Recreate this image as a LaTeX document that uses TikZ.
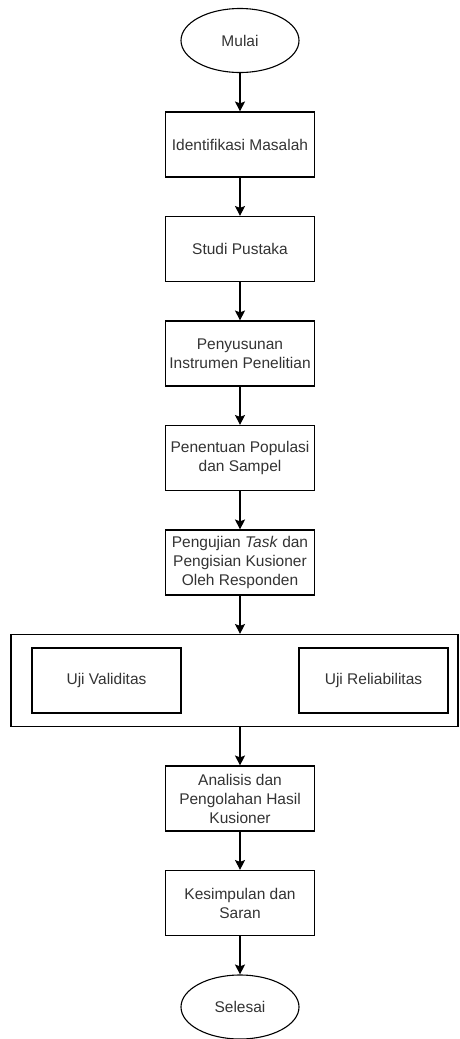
\documentclass[tikz,border=0pt]{standalone}
\usepackage{fontspec}
\setmainfont{Liberation Sans}
\usepackage{tikz}
\usetikzlibrary{shapes,arrows.meta,positioning,fit,calc}

\begin{document}
\begin{tikzpicture}[
    node distance=38.4pt,
    block/.style={rectangle, draw, line width=1.1pt, minimum width=149pt, minimum height=65pt, inner sep=2pt, font=\fontsize{15.5}{19}\selectfont, text=black!80, align=center},
    terminal/.style={ellipse, draw, line width=1.1pt, minimum width=118pt, minimum height=64pt, inner sep=0pt, font=\fontsize{15.5}{19}\selectfont, text=black!80},
    group/.style={rectangle, draw, line width=1.1pt, minimum width=447pt, minimum height=92pt, inner sep=0pt},
    arrow/.style={-{Stealth[length=10pt, width=10pt, inset=2pt]}, line width=1.1pt}
]
    \useasboundingbox (0,0) rectangle (459pt,-1039pt);

    % Main column
    \node[terminal] (mulai) at (240pt,-40.5pt) {Mulai};
    \node[block, below=of mulai] (identifikasi) {Identifikasi Masalah};
    \node[block, below=of identifikasi] (studi) {Studi Pustaka};
    \node[block, below=of studi] (instrumen) {Penyusunan\\Instrumen Penelitian};
    \node[block, below=of instrumen] (populasi) {Penentuan Populasi\\dan Sampel};
    \node[block, below=of populasi] (pengujian) {Pengujian \textit{Task} dan\\Pengisian Kusioner\\Oleh Responden};

    % Uji group
    \node[group, below=of pengujian, xshift=-5.5pt] (uji) {};
    \node[block, right=21pt of uji.west] (validitas) {Uji Validitas};
    \node[block, left=10pt of uji.east] (reliabilitas) {Uji Reliabilitas};

    \node[block, below=of uji, xshift=5.5pt] (analisis) {Analisis dan\\Pengolahan Hasil\\Kusioner};
    \node[block, below=of analisis] (kesimpulan) {Kesimpulan dan\\Saran};
    \node[terminal, below=of kesimpulan] (selesai) {Selesai};

    \draw[arrow] (mulai) -- (identifikasi);
    \draw[arrow] (identifikasi) -- (studi);
    \draw[arrow] (studi) -- (instrumen);
    \draw[arrow] (instrumen) -- (populasi);
    \draw[arrow] (populasi) -- (pengujian);
    \draw[arrow] (pengujian) -- (pengujian |- uji.north);
    \draw[arrow] (analisis |- uji.south) -- (analisis);
    \draw[arrow] (analisis) -- (kesimpulan);
    \draw[arrow] (kesimpulan) -- (selesai);
\end{tikzpicture}
\end{document}
